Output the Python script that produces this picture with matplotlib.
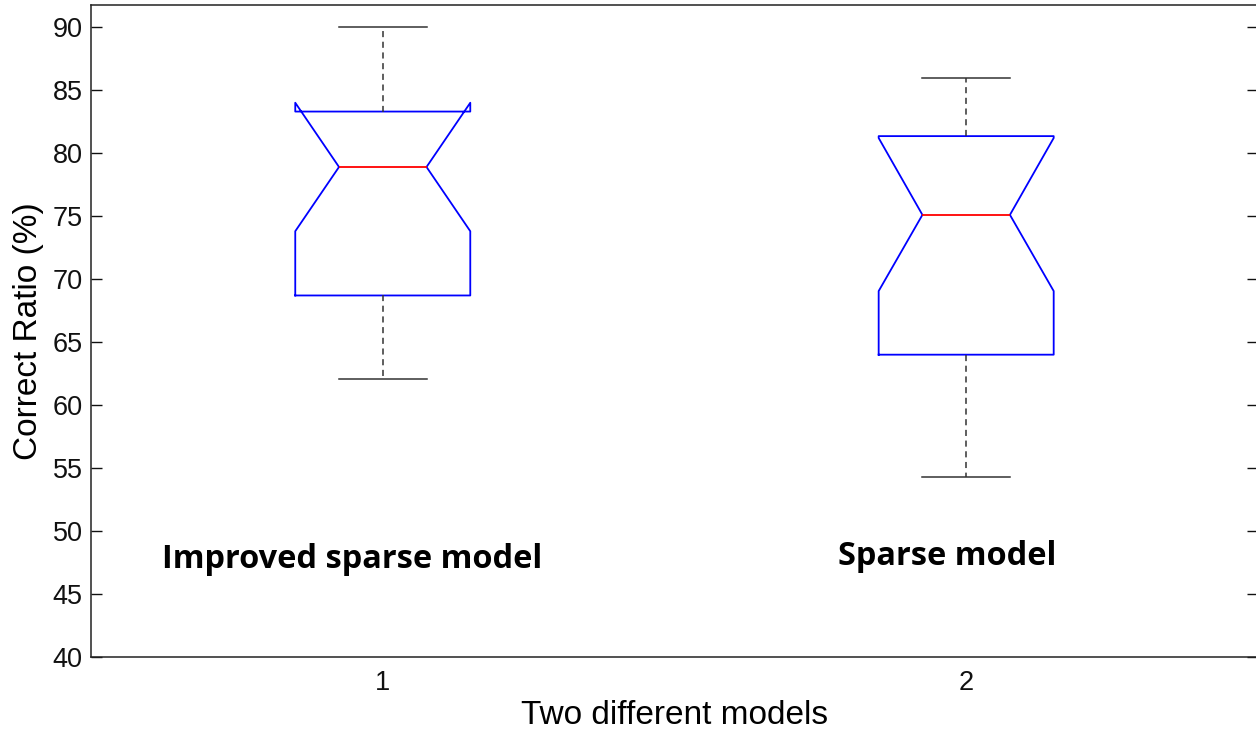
import matplotlib
matplotlib.use("Agg")
import matplotlib.pyplot as plt

# 箱线图统计值
positions = [1, 2]
model_names = ["Improved sparse model", "Sparse model"]
medians = [78.9, 75.1]
q1_vals = [68.7, 64.0]
q3_vals = [83.3, 81.35]
whisker_lo = [62.05, 54.3]
whisker_hi = [90.0, 86.0]
notch_lo = [73.8, 69.05]
notch_hi = [84.0, 81.2]
name_x = [0.948, 1.967]
name_y = [47.1, 47.3]

plt.rcParams["font.family"] = ["Liberation Sans", "DejaVu Sans"]

fig = plt.figure(figsize=(12.56, 7.30), dpi=100)
ax = fig.add_axes([0.0725, 0.1, 0.929, 0.893])

stats = []
for i in range(len(positions)):
    stats.append(
        {
            "med": medians[i],
            "q1": q1_vals[i],
            "q3": q3_vals[i],
            "whislo": whisker_lo[i],
            "whishi": whisker_hi[i],
            "cilo": notch_lo[i],
            "cihi": notch_hi[i],
            "fliers": [],
        }
    )

ax.bxp(
    stats,
    positions=positions,
    widths=0.3,
    shownotches=True,
    showfliers=False,
    boxprops=dict(color="#0000ff", linewidth=1.3),
    medianprops=dict(color="#ff0000", linewidth=1.3),
    whiskerprops=dict(color="#333333", linewidth=1.1, linestyle=(0, (4, 3))),
    capprops=dict(color="#333333", linewidth=1.1),
)

for i in range(len(positions)):
    ax.text(
        name_x[i],
        name_y[i],
        model_names[i],
        ha="center",
        va="baseline",
        fontsize=23.4,
        fontweight="bold",
        family=["Open Sans", "DejaVu Sans"],
    )

ax.set_xlim(0.5, 2.5)
ax.set_ylim(40, 91.75)
ax.set_yticks(range(40, 91, 5))
ax.set_xticks(positions)
ax.set_xticklabels(["1", "2"])
ax.tick_params(axis="y", direction="in", length=8, width=1, right=True, labelsize=19.5, pad=6, colors="#111111")
ax.tick_params(axis="x", direction="in", length=0, labelsize=19.5, pad=9, colors="#111111")
ax.set_xlabel("Two different models", fontsize=24, labelpad=3)
ax.set_ylabel("Correct Ratio (%)", fontsize=24, labelpad=6)
for sp in ax.spines.values():
    sp.set_linewidth(1.1)
    sp.set_color("#222222")

plt.savefig("out.png", dpi=100)
plt.close()
